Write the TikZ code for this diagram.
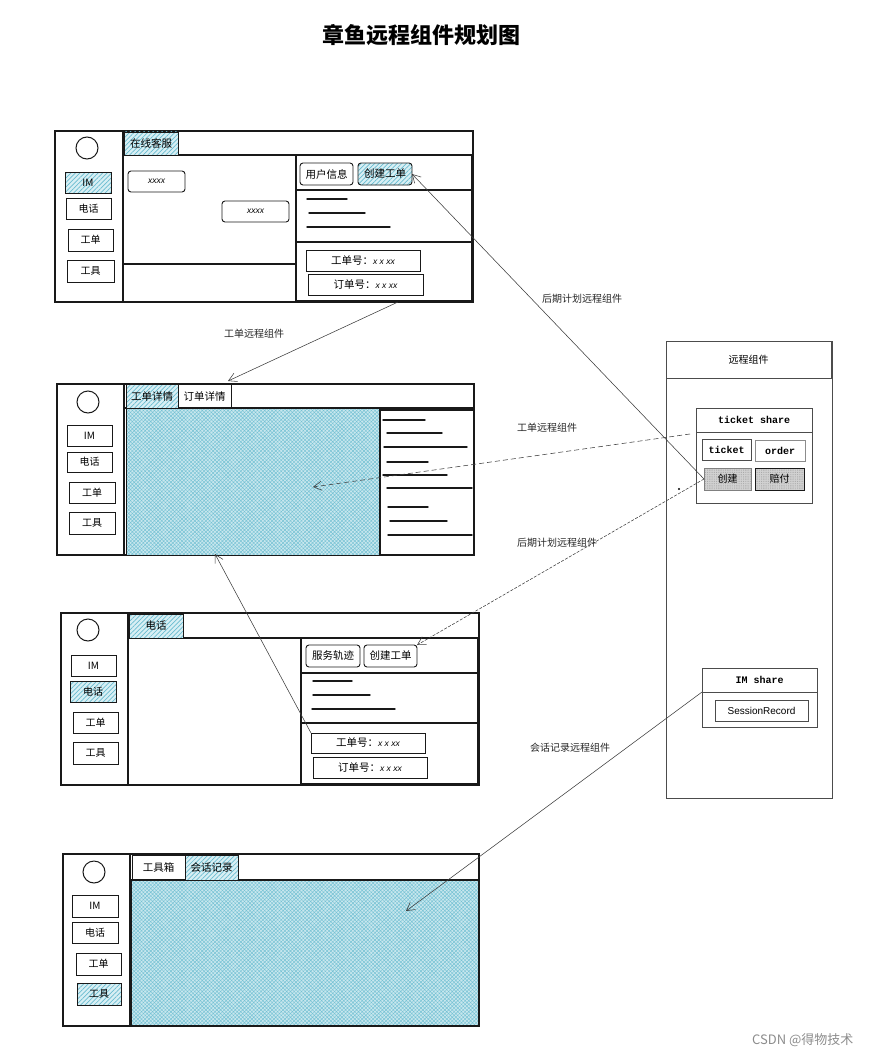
\documentclass[tikz,border=0pt]{standalone}
\usepackage{fontspec}
\setmainfont{Noto Sans CJK SC}
\newfontfamily\monof{Liberation Mono}
\newfontfamily\arialf{Liberation Sans}
\usetikzlibrary{arrows.meta,patterns.meta,calc}
\definecolor{hatchbg}{RGB}{216,239,244}
\definecolor{hatchfg}{RGB}{105,188,208}
\definecolor{areabg}{RGB}{200,231,238}
\definecolor{areafg}{RGB}{118,194,212}
\definecolor{ink}{RGB}{25,25,25}
\definecolor{arrink}{RGB}{60,60,60}
\newcommand{\uibx}[7]{\node[#1,anchor=north west,inner sep=0pt,outer sep=0pt,minimum width={(#4-#2)*1pt},minimum height={(#5-#3)*1pt}] (#6) at (#2,#3) {#7};}
\newcommand{\xs}[1]{{\arialf\itshape\fontsize{8.5}{9}\selectfont #1}}
\begin{document}
\begin{tikzpicture}[x=1pt,y=-1pt,
  frame/.style={draw=ink,line width=1.4pt},
  pane/.style={draw=ink,line width=1.15pt},
  btn/.style={draw=ink,line width=0.9pt,rounded corners=3pt,font=\fontsize{10.5}{11}\selectfont},
  sbtn/.style={draw=ink,line width=0.9pt,font=\fontsize{10}{10}\selectfont},
  tabx/.style={draw=ink,line width=0.9pt,font=\fontsize{10.5}{11}\selectfont},
  hatch/.style={preaction={fill=hatchbg},pattern={Lines[angle=45,distance=3.2pt,line width=0.7pt]},pattern color=hatchfg},
  area/.style={preaction={fill=areabg},pattern={Hatch[angle=45,distance=2.6pt,line width=0.45pt]},pattern color=areafg},
  field/.style={draw=ink,line width=0.9pt,font=\fontsize{10.5}{11}\selectfont},
  txtline/.style={draw=ink,line width=1.4pt,line cap=round},
  thin/.style={draw=black!70,line width=0.7pt},
  grayfill/.style={preaction={fill=black!18},pattern={Dots[distance=1.8pt,radius=0.35pt]},pattern color=black!45},
  arr/.style={draw=arrink,line width=0.55pt,-{Straight Barb[length=8pt,width=9pt]}},
  lbl/.style={font=\fontsize{10}{10}\selectfont,text=black!85,inner sep=0pt},
]
\useasboundingbox (0,0) rectangle (870,1054);

% title
\node[font=\fontsize{22}{22}\selectfont\bfseries] (title) at (421,35) {章鱼远程组件规划图};

% ================= panel 1 =================
\uibx{frame}{55}{131}{473}{302}{p1}{}
\uibx{frame}{55}{131}{123}{302}{p1s}{}
\draw[pane] (123,155) -- (473,155);
\uibx{tabx,hatch}{124}{132}{178}{155}{p1t}{在线客服}
\uibx{pane}{296}{155}{472}{301}{p1r}{}
\uibx{btn}{300}{163}{353}{185}{p1b1}{用户信息}
\uibx{btn,hatch}{358}{163}{412}{185}{p1b2}{创建工单}
\draw[pane] (296,190) -- (472,190);
\draw[txtline] (307,199) -- (347,199);
\draw[txtline] (309,213) -- (365,213);
\draw[txtline] (307,227) -- (390,227);
\draw[pane] (296,242) -- (472,242);
\uibx{field}{306}{250}{420}{271}{p1f1}{工单号：\xs{x x xx}}
\uibx{field}{308}{274}{423}{295}{p1f2}{订单号：\xs{x x xx}}
\uibx{btn}{128}{171}{185}{192}{p1c1}{\xs{xxxx}}
\uibx{btn}{222}{201}{289}{222}{p1c2}{\xs{xxxx}}
\draw[pane] (123,264) -- (296,264);
\node[circle,draw=ink,line width=1pt,minimum size=22pt,inner sep=0pt] (p1o) at (87,148) {};
\uibx{sbtn,hatch}{65}{172}{111}{193}{p1im}{IM}
\uibx{sbtn}{66}{198}{111}{219}{p1dh}{电话}
\uibx{sbtn}{68}{229}{113}{251}{p1gd}{工单}
\uibx{sbtn}{67}{260}{114}{282}{p1gj}{工具}

% ================= panel 2 =================
\uibx{frame}{57}{384}{474}{555}{p2}{}
\uibx{frame}{57}{384}{124}{555}{p2s}{}
\uibx{area,draw=ink,line width=0.6pt}{126}{408}{380}{555}{p2a}{}
\draw[pane] (124,408) -- (474,408);
\uibx{tabx,hatch}{126}{384}{178}{408}{p2t1}{工单详情}
\uibx{tabx}{178}{384}{231}{408}{p2t2}{订单详情}
\uibx{pane,fill=white}{380}{410}{474}{555}{p2r}{}
\draw[txtline] (383,420) -- (425,420);
\draw[txtline] (387,433) -- (442,433);
\draw[txtline] (384,447) -- (467,447);
\draw[txtline] (387,462) -- (428,462);
\draw[txtline] (383,475) -- (447,475);
\draw[txtline] (387,488) -- (472,488);
\draw[txtline] (388,507) -- (428,507);
\draw[txtline] (390,521) -- (447,521);
\draw[txtline] (388,535) -- (472,535);
\node[circle,draw=ink,line width=1pt,minimum size=22pt,inner sep=0pt] (p2o) at (88,402) {};
\uibx{sbtn}{67}{425}{112}{446}{p2im}{IM}
\uibx{sbtn}{67}{452}{112}{472}{p2dh}{电话}
\uibx{sbtn}{69}{482}{115}{503}{p2gd}{工单}
\uibx{sbtn}{69}{512}{115}{534}{p2gj}{工具}

% ================= panel 3 =================
\uibx{frame}{61}{613}{479}{785}{p3}{}
\uibx{frame}{61}{613}{128}{785}{p3s}{}
\draw[pane] (128,638) -- (479,638);
\uibx{tabx,hatch}{129}{614}{183}{638}{p3t}{电话}
\uibx{pane}{301}{638}{478}{784}{p3r}{}
\uibx{btn}{306}{645}{360}{667}{p3b1}{服务轨迹}
\uibx{btn}{364}{645}{417}{667}{p3b2}{创建工单}
\draw[pane] (301,673) -- (478,673);
\draw[txtline] (313,681) -- (352,681);
\draw[txtline] (313,695) -- (370,695);
\draw[txtline] (312,709) -- (395,709);
\draw[pane] (301,723) -- (478,723);
\uibx{field}{311}{733}{425}{753}{p3f1}{工单号：\xs{x x xx}}
\uibx{field}{313}{757}{427}{778}{p3f2}{订单号：\xs{x x xx}}
\node[circle,draw=ink,line width=1pt,minimum size=22pt,inner sep=0pt] (p3o) at (88,630) {};
\uibx{sbtn}{71}{655}{116}{676}{p3im}{IM}
\uibx{sbtn,hatch}{70}{681}{116}{702}{p3dh}{电话}
\uibx{sbtn}{73}{712}{118}{733}{p3gd}{工单}
\uibx{sbtn}{73}{742}{118}{764}{p3gj}{工具}

% ================= panel 4 =================
\uibx{frame}{63}{854}{479}{1026}{p4}{}
\uibx{frame}{63}{854}{130}{1026}{p4s}{}
\uibx{area,draw=ink,line width=0.6pt}{131}{880}{478}{1025}{p4a}{}
\draw[pane] (130,880) -- (479,880);
\uibx{tabx}{132}{855}{185}{880}{p4t1}{工具箱}
\uibx{tabx,hatch}{185}{855}{238}{880}{p4t2}{会话记录}
\node[circle,draw=ink,line width=1pt,minimum size=22pt,inner sep=0pt] (p4o) at (94,872) {};
\uibx{sbtn}{72}{895}{118}{917}{p4im}{IM}
\uibx{sbtn}{72}{922}{118}{943}{p4dh}{电话}
\uibx{sbtn}{76}{953}{121}{975}{p4gd}{工单}
\uibx{sbtn,hatch}{77}{983}{121}{1005}{p4gj}{工具}

% ================= remote components =================
\uibx{thin}{666}{341}{832}{798}{rc}{}
\uibx{thin,font=\fontsize{10}{10}\selectfont}{666}{341}{831}{378}{rch}{远程组件}
\uibx{thin}{696}{408}{812}{503}{ts}{}
\uibx{thin,font=\monof\bfseries\fontsize{10}{10}\selectfont}{696}{408}{812}{432}{tsh}{ticket share}
\uibx{thin,font=\monof\bfseries\fontsize{10}{10}\selectfont}{702}{439}{751}{460}{tkt}{ticket}
\uibx{thin,draw=black!45,font=\monof\bfseries\fontsize{10}{10}\selectfont}{755}{440}{805}{461}{ord}{order}
\uibx{thin,grayfill,draw=black!50,font=\fontsize{10}{10}\selectfont}{704}{468}{751}{490}{cj}{创建}
\uibx{grayfill,draw=ink,line width=1pt,font=\fontsize{10}{10}\selectfont}{755}{468}{804}{490}{pf}{赔付}
\uibx{thin}{702}{668}{817}{727}{ims}{}
\uibx{thin,font=\monof\bfseries\fontsize{10}{10}\selectfont}{702}{668}{817}{692}{imsh}{IM share}
\uibx{thin,font=\arialf\fontsize{10}{10}\selectfont}{715}{700}{808}{721}{sr}{SessionRecord}
\fill (679,489) circle (1.2pt);

% ================= connectors =================
\coordinate (a1s) at (398,302);
\coordinate (a1e) at (228,381);
\draw[arr] (a1s) -- (a1e);
\draw[arr] (cj.west) -- (p1b2.east);
\coordinate (a3s) at (690,434);
\coordinate (a3e) at (313,487);
\draw[arr,dash pattern=on 5pt off 3pt] (a3s) -- (a3e);
\draw[arr,dash pattern=on 3pt off 1.5pt] (cj.west) -- (p3b2.north east);
\coordinate (a5e) at (215,554);
\draw[arr] (p3f1.north west) -- (a5e);
\coordinate (a6e) at (406,911);
\draw[arr] (imsh.south west) -- (a6e);

% labels
\node[lbl] (l1) at (254,334) {工单远程组件};
\node[lbl] (l2) at (582,299) {后期计划远程组件};
\node[lbl] (l3) at (547,428) {工单远程组件};
\node[lbl] (l4) at (557,543) {后期计划远程组件};
\node[lbl] (l5) at (570,748) {会话记录远程组件};
\node[font=\fontsize{13}{13}\selectfont,text=black!45,anchor=east] (wm) at (857,1040) {CSDN @得物技术};
\end{tikzpicture}
\end{document}
